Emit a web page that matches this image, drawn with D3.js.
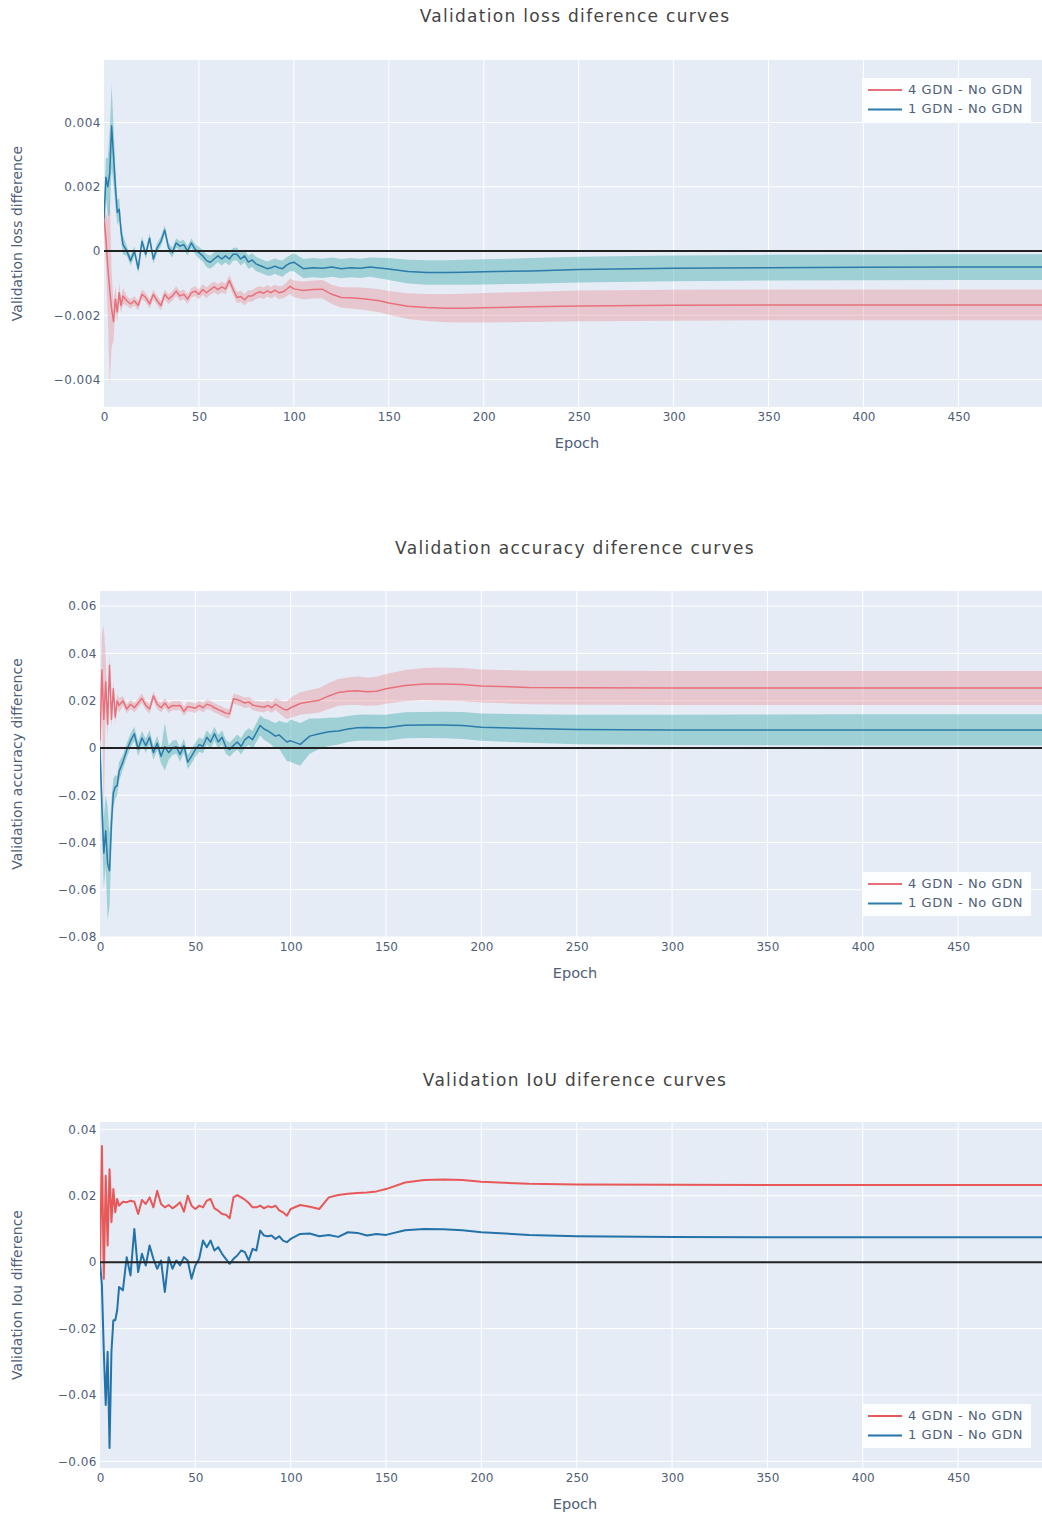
<!DOCTYPE html>
<html>
<head>
<meta charset="utf-8">
<script src="https://cdn.jsdelivr.net/npm/d3@7"></script>
<style>
  html, body { margin: 0; padding: 0; background: #ffffff; }
  svg { display: block; }
</style>
</head>
<body>
<svg id="chart" width="1042" height="1519" font-family="'DejaVu Sans', Verdana, sans-serif"></svg>
<script>
// ---------------- DATA ----------------
const epochs = [0,1,2,3,4,5,6,7,8,9,10,
  12,14,16,18,20,22,24,26,28,30,
  32,34,36,38,40,42,44,46,48,50,
  52,54,56,58,60,62,64,66,68,70,
  72,74,76,78,80,82,84,86,88,90,
  92,94,96,98,100,
  105,110,115,120,125,130,135,140,145,150,
  160,170,180,190,200,
  225,250,300,350,400,450,494];

const seriesNames = ["4 GDN - No GDN", "1 GDN - No GDN"];
const xTicks = [0,50,100,150,200,250,300,350,400,450];

// Validation loss difference
const loss4 = [0.0010,0.0004,-0.0005,-0.0012,-0.0018,-0.0022,-0.0015,-0.0019,-0.0013,-0.0017,-0.0014,
  -0.00155,-0.00165,-0.00155,-0.0017,-0.00135,-0.00145,-0.00165,-0.00135,-0.00155,-0.0017,
  -0.00135,-0.0015,-0.0014,-0.00125,-0.0014,-0.00135,-0.0015,-0.0013,-0.00125,-0.00135,
  -0.0012,-0.0013,-0.0012,-0.00112,-0.0012,-0.00112,-0.00118,-0.00092,-0.0012,-0.00145,
  -0.00142,-0.00152,-0.0014,-0.0014,-0.00132,-0.00127,-0.00132,-0.00124,-0.0013,-0.00122,
  -0.0013,-0.00128,-0.0012,-0.0011,-0.00118,
  -0.00123,-0.0012,-0.00119,-0.00135,-0.00145,-0.00146,-0.00148,-0.00151,-0.00155,-0.00162,
  -0.00172,-0.00176,-0.00178,-0.00178,-0.00177,
  -0.00174,-0.00171,-0.00169,-0.00168,-0.00168,-0.00168,-0.00168];
const loss4Band = [0.0005,0.0008,0.0015,0.0030,0.0012,0.0006,0.0004,0.0003,0.0003,0.00025,0.00025,
  0.00015,0.00015,0.00015,0.00015,0.00015,0.00015,0.00015,0.00015,0.00015,0.00015,
  0.00015,0.00015,0.00015,0.00015,0.00015,0.00015,0.00015,0.00015,0.00015,0.00015,
  0.00017,0.00017,0.00017,0.00017,0.00017,0.00017,0.00017,0.00017,0.00017,0.00017,
  0.00018,0.00018,0.00018,0.00018,0.00018,0.00018,0.00018,0.00018,0.00018,0.00018,
  0.0002,0.0002,0.00022,0.00024,0.00026,
  0.00028,0.00028,0.00029,0.0003,0.00032,0.00033,0.00034,0.00035,0.00036,0.00037,
  0.0004,0.00042,0.00044,0.00045,0.00046,
  0.00047,0.00048,0.00048,0.00048,0.00048,0.00048,0.00048];
const loss1 = [0.0010,0.0023,0.0020,0.0024,0.0039,0.0030,0.0020,0.0012,0.0013,0.0006,0.0002,
  0.0000,-0.0003,0.0000,-0.00055,0.0003,-0.0001,0.0004,-0.00025,0.0001,0.0003,
  0.00065,0.0001,-0.00005,0.00025,0.00015,0.0002,0.0000,0.00025,0.00005,-0.00005,
  -0.00015,-0.0003,-0.00035,-0.00025,-0.00015,-0.00025,-0.00015,-0.00025,-0.0001,-0.0001,
  -0.00025,-0.00015,-0.00035,-0.00028,-0.0004,-0.00045,-0.0005,-0.00055,-0.00052,-0.00047,
  -0.00052,-0.00055,-0.00045,-0.00038,-0.00035,
  -0.00055,-0.00052,-0.00054,-0.0005,-0.00055,-0.00052,-0.00054,-0.0005,-0.00053,-0.00056,
  -0.00064,-0.00067,-0.00067,-0.00066,-0.00065,
  -0.00062,-0.00058,-0.00054,-0.00052,-0.00051,-0.0005,-0.0005];
const loss1Band = [0.0003,0.0006,0.0009,0.0013,0.0013,0.0009,0.0006,0.0004,0.00035,0.0003,0.0003,
  0.00015,0.00015,0.00015,0.00015,0.00015,0.00015,0.00015,0.00015,0.00015,0.00015,
  0.00015,0.00015,0.00015,0.00015,0.00015,0.00015,0.00015,0.00015,0.00015,0.00018,
  0.00018,0.0002,0.0002,0.0002,0.0002,0.0002,0.0002,0.0002,0.0002,0.0002,
  0.0002,0.0002,0.0002,0.00022,0.00022,0.00022,0.00022,0.00022,0.00024,0.00024,
  0.00024,0.00025,0.00025,0.00025,0.00028,
  0.0003,0.0003,0.0003,0.0003,0.0003,0.0003,0.0003,0.0003,0.00032,0.00034,
  0.00037,0.00038,0.00038,0.00039,0.00039,
  0.0004,0.0004,0.0004,0.0004,0.0004,0.0004,0.0004];
const lossTicks = [-0.004,-0.002,0,0.002,0.004];

// Validation accuracy difference
const acc4 = [0.003,0.033,0.012,0.028,0.010,0.035,0.012,0.025,0.013,0.020,0.018,
  0.020,0.0165,0.0185,0.017,0.019,0.021,0.018,0.0165,0.022,0.0185,
  0.017,0.019,0.0168,0.018,0.0178,0.018,0.0155,0.0175,0.0172,0.0168,
  0.018,0.017,0.0185,0.018,0.017,0.0162,0.0155,0.0147,0.0145,0.0208,
  0.0204,0.0198,0.019,0.0195,0.0182,0.0177,0.0175,0.0172,0.018,0.017,
  0.0185,0.0175,0.0165,0.016,0.017,
  0.0188,0.0195,0.0202,0.022,0.0235,0.024,0.0242,0.0238,0.024,0.025,
  0.0264,0.027,0.027,0.0268,0.0262,
  0.0256,0.0255,0.0254,0.0254,0.0254,0.0254,0.0254];
const acc4Band = [0.008,0.015,0.040,0.010,0.006,0.005,0.004,0.0035,0.003,0.003,0.003,
  0.002,0.002,0.002,0.002,0.002,0.002,0.002,0.002,0.002,0.002,
  0.002,0.002,0.002,0.002,0.002,0.002,0.002,0.002,0.002,0.002,
  0.002,0.002,0.002,0.002,0.002,0.002,0.002,0.002,0.002,0.002,
  0.0022,0.0022,0.0022,0.0022,0.0022,0.0022,0.0022,0.0022,0.0022,0.0022,
  0.0025,0.0028,0.0032,0.0038,0.0042,
  0.0048,0.005,0.0052,0.0055,0.0057,0.0058,0.006,0.006,0.0061,0.0063,
  0.0066,0.0068,0.007,0.007,0.007,
  0.0071,0.0072,0.0072,0.0072,0.0072,0.0072,0.0072];
const acc1 = [0.000,-0.025,-0.0445,-0.035,-0.049,-0.052,-0.032,-0.019,-0.0165,-0.016,-0.010,
  -0.006,-0.001,0.003,0.006,-0.0005,0.0042,0.001,0.0045,-0.002,0.002,
  -0.0035,0.0005,-0.002,0.000,0.0005,-0.0028,0.001,-0.006,-0.0035,-0.0007,
  0.0014,0.0007,0.0045,0.0025,0.006,0.0025,0.0045,0.0005,-0.0007,0.001,
  0.0025,0.0007,0.0035,0.0048,0.0035,0.0065,0.0095,0.008,0.0072,0.0062,
  0.005,0.0055,0.004,0.0025,0.003,
  0.0015,0.005,0.006,0.0068,0.0072,0.008,0.0085,0.0086,0.0085,0.0085,
  0.0096,0.0097,0.0097,0.0095,0.0088,
  0.0082,0.0078,0.0076,0.0076,0.0076,0.0076,0.0076];
const acc1Band = [0.005,0.010,0.015,0.015,0.024,0.015,0.010,0.006,0.005,0.004,0.004,
  0.003,0.003,0.003,0.003,0.003,0.003,0.003,0.003,0.003,0.003,
  0.003,0.010,0.003,0.003,0.003,0.003,0.003,0.003,0.003,0.003,
  0.003,0.003,0.003,0.003,0.003,0.003,0.003,0.003,0.003,0.003,
  0.0032,0.0035,0.0035,0.0035,0.0038,0.004,0.0042,0.0045,0.0048,0.005,
  0.0055,0.006,0.007,0.008,0.009,
  0.009,0.0075,0.0065,0.006,0.0057,0.0055,0.0055,0.0055,0.0055,0.0055,
  0.0055,0.0055,0.0056,0.0057,0.0058,
  0.006,0.0062,0.0064,0.0065,0.0066,0.0066,0.0066];
const accTicks = [-0.08,-0.06,-0.04,-0.02,0,0.02,0.04,0.06];

// Validation IoU difference
const iou4 = [-0.002,0.035,-0.005,0.026,0.005,0.028,0.012,0.022,0.015,0.019,0.017,
  0.0182,0.018,0.0185,0.0182,0.0145,0.0187,0.0175,0.0195,0.0165,0.0215,
  0.0175,0.0165,0.0172,0.0162,0.017,0.018,0.0152,0.020,0.017,0.016,
  0.017,0.0165,0.0185,0.019,0.0162,0.0155,0.0145,0.0143,0.0132,0.0195,
  0.0202,0.0195,0.0188,0.0178,0.0165,0.0165,0.017,0.0162,0.0168,0.0165,
  0.017,0.0156,0.015,0.014,0.016,
  0.0172,0.0167,0.016,0.0195,0.0202,0.0206,0.0208,0.021,0.0213,0.022,
  0.024,0.0247,0.0249,0.0247,0.0242,
  0.0236,0.0234,0.0233,0.0232,0.0232,0.0232,0.0232];
const iou1 = [0.000,-0.007,-0.027,-0.043,-0.027,-0.056,-0.027,-0.0175,-0.0175,-0.0145,-0.0075,
  -0.0085,0.0015,-0.004,0.010,-0.003,0.0025,-0.001,0.005,0.001,-0.002,
  0.0005,-0.009,0.0015,-0.002,0.0005,-0.001,0.0015,0.0005,-0.005,-0.001,
  0.001,0.0065,0.0045,0.0065,0.0035,0.0045,0.0025,0.001,-0.0005,0.001,
  0.002,0.0035,0.003,0.0005,0.004,0.0035,0.0095,0.008,0.0078,0.008,
  0.007,0.0078,0.0065,0.006,0.007,
  0.0085,0.0086,0.0078,0.0082,0.0076,0.009,0.0088,0.008,0.0085,0.0082,
  0.0096,0.010,0.0099,0.0096,0.009,
  0.0082,0.0078,0.0076,0.0075,0.0075,0.0075,0.0075];
const iouTicks = [-0.06,-0.04,-0.02,0,0.02,0.04];

// ---------------- DRAW ----------------
const svg = d3.select("#chart");
const TEXT = "#506078";
const RED = "#e8707a", BLUE = "#2b7bab";
const RED_BAND = "rgba(235,120,125,0.32)", BLUE_BAND = "rgba(60,170,170,0.42)";

const charts = [
  { title: "Validation loss diference curves", yTitle: "Validation loss difference",
    left: 104, top: 60, bottom: 407, yDomain: [-0.00486, 0.00595], ticks: lossTicks, fmt: d3.format(".3~f"),
    titleY: 17, legendY: 78, lw: 1.5,
    series: [{v: loss4, band: loss4Band, c: RED, bc: RED_BAND}, {v: loss1, band: loss1Band, c: BLUE, bc: BLUE_BAND}] },
  { title: "Validation accuracy diference curves", yTitle: "Validation accuracy difference",
    left: 100, top: 591, bottom: 937, yDomain: [-0.08, 0.0664], ticks: accTicks, fmt: d3.format(".2~f"),
    titleY: 549, legendY: 872, lw: 1.5,
    series: [{v: acc4, band: acc4Band, c: RED, bc: RED_BAND}, {v: acc1, band: acc1Band, c: BLUE, bc: BLUE_BAND}] },
  { title: "Validation IoU diference curves", yTitle: "Validation Iou difference",
    left: 100, top: 1122, bottom: 1468, yDomain: [-0.062, 0.0422], ticks: iouTicks, fmt: d3.format(".2~f"),
    titleY: 1081, legendY: 1404, lw: 2,
    series: [{v: iou4, band: null, c: "#e85858", bc: null}, {v: iou1, band: null, c: "#2472aa", bc: null}] }
];

const RIGHT = 1042;

charts.forEach((ch, ci) => {
  const x = d3.scaleLinear().domain([0, 494]).range([ch.left, RIGHT]);
  const y = d3.scaleLinear().domain(ch.yDomain).range([ch.bottom, ch.top]);
  const g = svg.append("g");

  g.append("rect").attr("x", ch.left).attr("y", ch.top)
    .attr("width", RIGHT - ch.left).attr("height", ch.bottom - ch.top).attr("fill", "#e5ecf6");

  g.selectAll(".vg").data(xTicks.filter(t => t > 0)).join("line")
    .attr("x1", d => x(d)).attr("x2", d => x(d)).attr("y1", ch.top).attr("y2", ch.bottom)
    .attr("stroke", "#ffffff").attr("stroke-width", 1);
  g.selectAll(".hg").data(ch.ticks.filter(t => t !== 0)).join("line")
    .attr("x1", ch.left).attr("x2", RIGHT).attr("y1", d => y(d)).attr("y2", d => y(d))
    .attr("stroke", "#ffffff").attr("stroke-width", 1);

  const clipId = "clip" + ci;
  svg.append("clipPath").attr("id", clipId).append("rect")
    .attr("x", ch.left).attr("y", ch.top).attr("width", RIGHT - ch.left).attr("height", ch.bottom - ch.top);
  const plot = g.append("g").attr("clip-path", `url(#${clipId})`);

  ch.series.forEach(s => {
    if (s.band) {
      const area = d3.area()
        .x((d, i) => x(epochs[i]))
        .y0((d, i) => y(s.v[i] - s.band[i]))
        .y1((d, i) => y(s.v[i] + s.band[i]));
      plot.append("path").datum(s.v).attr("d", area).attr("fill", s.bc).attr("stroke", "none");
    }
    const line = d3.line().x((d, i) => x(epochs[i])).y(d => y(d));
    plot.append("path").datum(s.v).attr("d", line).attr("fill", "none")
      .attr("stroke", s.c).attr("stroke-width", ch.lw).attr("stroke-linejoin", "round");
  });

  plot.append("line").attr("x1", ch.left).attr("x2", RIGHT).attr("y1", y(0)).attr("y2", y(0))
    .attr("stroke", "#222222").attr("stroke-width", 2);

  const xAxis = d3.axisBottom(x).tickValues(xTicks).tickSize(0).tickPadding(5).tickFormat(d3.format("d"));
  const xg = svg.append("g").attr("transform", `translate(0,${ch.bottom})`).call(xAxis);
  xg.select(".domain").remove();
  xg.attr("font-family", null).attr("font-size", 12);
  xg.selectAll("text").attr("fill", TEXT);

  const yAxis = d3.axisLeft(y).tickValues(ch.ticks).tickSize(0).tickPadding(3)
    .tickFormat(d => d === 0 ? "0" : ch.fmt(d));
  const yg = svg.append("g").attr("transform", `translate(${ch.left},0)`).call(yAxis);
  yg.select(".domain").remove();
  yg.attr("font-family", null).attr("font-size", 12);
  yg.selectAll("text").attr("fill", TEXT).attr("letter-spacing", 0.5);

  svg.append("text").attr("x", 575).attr("y", ch.titleY).attr("text-anchor", "middle")
    .attr("dominant-baseline", "middle").attr("font-size", 17).attr("fill", "#444")
    .attr("letter-spacing", 1.3).text(ch.title);
  svg.append("text").attr("x", (ch.left + RIGHT) / 2 + 4).attr("y", ch.bottom + 37)
    .attr("text-anchor", "middle").attr("dominant-baseline", "middle")
    .attr("font-size", 14.5).attr("fill", TEXT).text("Epoch");
  svg.append("text")
    .attr("transform", `translate(18,${(ch.top + ch.bottom) / 2}) rotate(-90)`)
    .attr("text-anchor", "middle").attr("dominant-baseline", "middle")
    .attr("font-size", 14).attr("fill", TEXT).text(ch.yTitle);

  const lg = svg.append("g").attr("transform", `translate(862,${ch.legendY})`);
  lg.append("rect").attr("width", 169).attr("height", 44).attr("fill", "rgba(255,255,255,0.92)");
  ch.series.forEach((s, i) => {
    const yy = 12 + i * 19.5;
    lg.append("line").attr("x1", 6).attr("x2", 40).attr("y1", yy).attr("y2", yy)
      .attr("stroke", s.c).attr("stroke-width", 2);
    lg.append("text").attr("x", 46).attr("y", yy).attr("dominant-baseline", "middle")
      .attr("font-size", 13).attr("letter-spacing", 0.6).attr("fill", TEXT).text(seriesNames[i]);
  });
});
</script>
</body>
</html>
